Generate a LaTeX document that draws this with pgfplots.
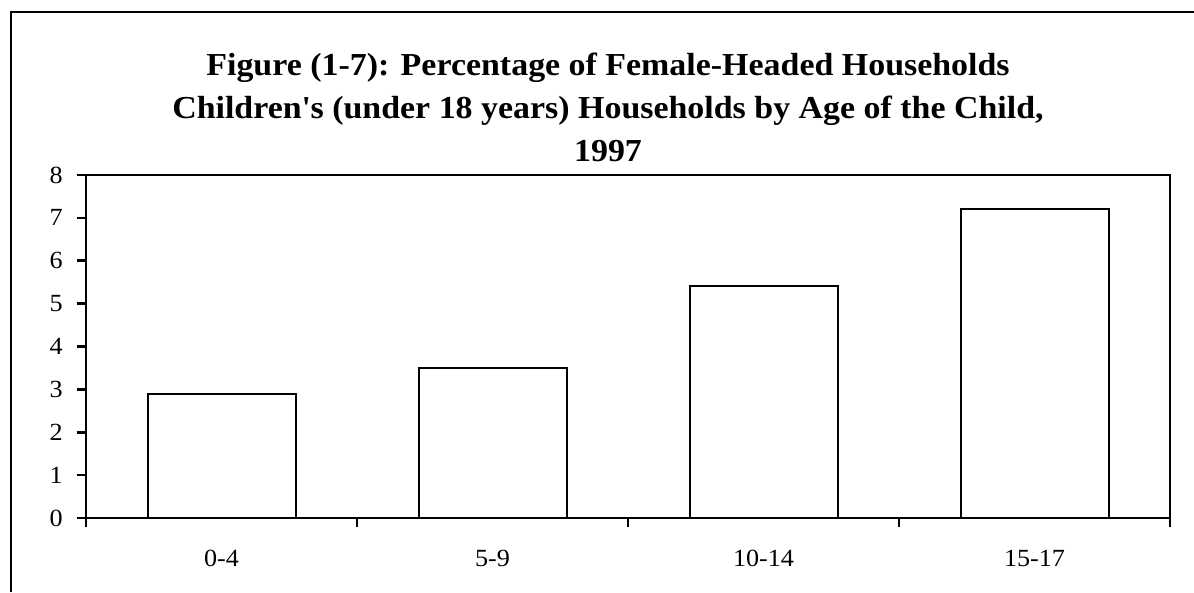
\documentclass[border=0pt]{standalone}
\usepackage{fontspec}
\setmainfont{Liberation Serif}[FakeStretch=1.06]
\usepackage{pgfplots}
\pgfplotsset{compat=1.18}
\begin{document}
\begin{tikzpicture}
\useasboundingbox (0,0) rectangle (895.5pt,444pt);
\draw[line width=1.5pt] (8.25pt,0pt) -- (8.25pt,435pt) -- (895.5pt,435pt);
\begin{scope}[every node/.style={anchor=base, inner sep=0pt, font=\fontsize{24}{28}\selectfont\bfseries}]
\node at (456pt,387pt) {Figure (1-7): Percentage of Female-Headed Households};
\node at (456pt,354.75pt) {Children\textquotesingle s (under 18 years) Households by Age of the Child,};
\node at (456pt,322.5pt) {1997};
\end{scope}
\begin{axis}[at={(64.5pt,55.5pt)}, anchor=south west, width=813pt, height=257.25pt, scale only axis,
 xmin=-0.5, xmax=3.5, ymin=0, ymax=8, ytick={0,...,8},
 xtick={-0.5,0.5,1.5,2.5,3.5}, xticklabels={},
 extra x ticks={0,1,2,3}, extra x tick labels={0-4,5-9,10-14,15-17},
 extra x tick style={major tick length=0pt, tick label style={yshift=-20.5pt}},
 tick align=outside, xtick pos=bottom, ytick pos=left,
 major tick length=7pt,
 axis line style={line width=2.1pt}, every tick/.style={black, line width=2pt},
 tick label style={font=\fontsize{18.5}{22}\selectfont},
 yticklabel style={xshift=-7pt},
 /pgf/number format/assume math mode=true,
 ybar, bar width=111pt,
]
\addplot[fill=white, draw=black, line width=1.5pt] coordinates {(0,2.9) (1,3.5) (2,5.4) (3,7.2)};
\end{axis}
\end{tikzpicture}
\end{document}
